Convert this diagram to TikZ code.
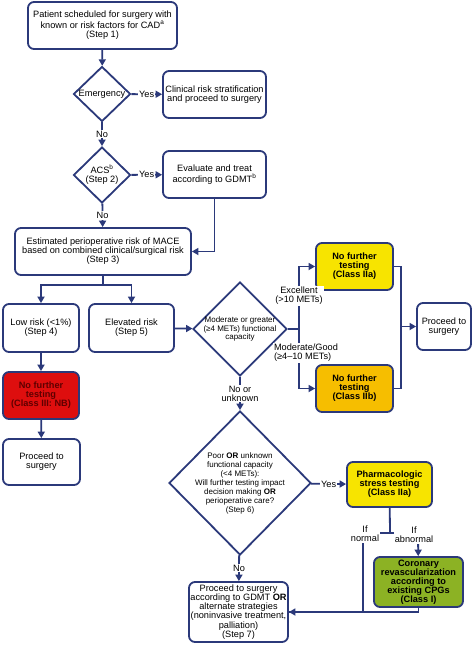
\documentclass[tikz,border=0pt]{standalone}
\usepackage{fontspec}
\setmainfont{Liberation Sans}
\usetikzlibrary{shapes.geometric,arrows.meta}
\definecolor{navy}{RGB}{43,57,122}
\definecolor{redbox}{RGB}{222,14,14}
\definecolor{redtext}{RGB}{95,0,0}
\definecolor{yellowbox}{RGB}{247,228,0}
\definecolor{amberbox}{RGB}{246,190,0}
\definecolor{greenbox}{RGB}{140,178,36}

\begin{document}
\begin{tikzpicture}[x=1pt,y=-1pt,
  box/.style={draw=navy,line width=1.8pt,rounded corners=6pt,fill=white,align=center,inner sep=0pt,font=\fontsize{9.2}{9.1}\selectfont},
  hot/.style={box,font=\fontsize{9.2}{9.1}\selectfont\bfseries},
  dia/.style={draw=navy,line width=1.8pt,diamond,fill=white,align=center,inner sep=0pt,font=\fontsize{9.2}{9.1}\selectfont},
  lbl/.style={fill=white,inner sep=1pt,align=center,font=\fontsize{9.2}{9.1}\selectfont},
  ln/.style={draw=navy,line width=1.8pt},
  arr/.style={ln,-{Triangle[length=6.5pt,width=7pt]}}]
\useasboundingbox (0,0) rectangle (474,645);
\node[box,minimum width=149pt,minimum height=47pt] (s1) at (102.5,25.5) {Patient scheduled for surgery with\\[0.6pt]known or risk factors for CAD\textsuperscript{a}\\(Step 1)};
\node[dia,minimum width=57pt,minimum height=55pt] (emg) at (102,94) {Emergency};
\node[box,minimum width=103pt,minimum height=47pt] (clin) at (214.5,94.5) {Clinical risk stratification\\and proceed to surgery};
\node[dia,minimum width=57pt,minimum height=56pt] (acs) at (102,175) {ACS\textsuperscript{b}\\(Step 2)};
\node[box,minimum width=103pt,minimum height=47pt] (eval) at (214.5,174.5) {Evaluate and treat\\[1.2pt]according to GDMT\textsuperscript{b}};
\node[box,minimum width=176pt,minimum height=47pt] (est) at (103,251.5) {Estimated perioperative risk of MACE\\based on combined clinical/surgical risk\\(Step 3)};
\coordinate (fork) at (103,285);
\node[box,minimum width=76pt,minimum height=48pt] (low) at (41,328) {Low risk (<1\%)\\(Step 4)};
\node[box,minimum width=85pt,minimum height=48pt] (elev) at (131.5,328) {Elevated risk\\(Step 5)};
\node[dia,minimum width=94pt,minimum height=94pt,inner sep=-5pt,font=\fontsize{8}{8.6}\selectfont] (cap) at (240,329) {Moderate or greater\\(≥4 METs) functional\\capacity};
\coordinate (fc) at (299,329);
\node[hot,fill=yellowbox,minimum width=77pt,minimum height=47pt] (iia) at (354.5,266.5) {No further\\testing\\(Class IIa)};
\node[hot,fill=amberbox,minimum width=77pt,minimum height=47pt] (iib) at (354.5,388.5) {No further\\testing\\(Class IIb)};
\coordinate (jn) at (401,326.5);
\node[box,minimum width=54pt,minimum height=47pt] (pr2) at (444,326.5) {Proceed to\\surgery};
\node[hot,fill=redbox,text=redtext,minimum width=76pt,minimum height=47pt] (nft) at (41,395.5) {No further\\testing\\(Class III: NB)};
\node[box,minimum width=77pt,minimum height=46pt] (pr1) at (41.5,462) {Proceed to\\surgery};
\node[dia,minimum width=142pt,minimum height=144pt,inner sep=-6pt,font=\fontsize{8}{9}\selectfont] (s6) at (240,483) {Poor \textbf{OR} unknown\\functional capacity\\(<4 METs):\\Will further testing impact\\decision making \textbf{OR}\\perioperative care?\\(Step 6)};
\node[hot,fill=yellowbox,minimum width=85pt,minimum height=45pt] (ph) at (389.5,484.5) {Pharmacologic\\stress testing\\(Class IIa)};
\coordinate (tj) at (390,533);
\coordinate (tl) at (363,533);
\coordinate (tr) at (418,533);
\node[hot,fill=greenbox,minimum width=89pt,minimum height=50pt] (cor) at (418.5,582) {Coronary\\revascularization\\according to\\existing CPGs\\(Class I)};
\node[box,minimum width=99pt,minimum height=60pt] (s7) at (238.5,612) {Proceed to surgery\\according to GDMT \textbf{OR}\\alternate strategies\\(noninvasive treatment,\\palliation)\\(Step 7)};
\draw[arr] (s1) -- (emg);
\draw[arr] (emg) -- node[lbl]{Yes} (clin);
\draw[arr] (emg) -- node[lbl]{No} (acs);
\draw[arr] (acs) -- node[lbl]{Yes} (eval);
\draw[arr] (acs) -- node[lbl]{No} (est);
\draw[arr] (eval) |- (est);
\draw[ln] (est) -- (fork);
\draw[arr] (fork) -| (low);
\draw[arr] (fork) -| (elev);
\draw[arr] (elev) -- (cap);
\draw[ln] (cap) -- (fc);
\draw[arr] (fc) |- (iia);
\draw[arr] (fc) |- (iib);
\draw[ln] (iia) -| (jn);
\draw[ln] (iib) -| (jn);
\draw[arr] (jn) -- (pr2);
\draw[arr] (low) -- (nft);
\draw[arr] (nft) -- (pr1);
\draw[arr] (cap) -- node[lbl]{No or\\unknown} (s6);
\draw[arr] (s6) -- node[lbl]{Yes} (ph);
\draw[ln] (ph) -- (tj);
\draw[ln] (tl) -- (tr);
\draw[arr] (tr) -- (cor);
\draw[ln] (cor) |- (s7);
\draw[arr] (tl) |- (s7);
\draw[arr] (s6) -- node[lbl]{No} (s7);
\node[lbl] (exc) at (299,296) {Excellent\\(>10 METs)};
\node[lbl,align=left] (mod) at (306,353) {Moderate/Good\\(≥4–10 METs)};
\node[lbl] (ifn) at (365,534) {If\\normal};
\node[lbl] (ifa) at (414,535) {If\\abnormal};
\end{tikzpicture}
\end{document}
